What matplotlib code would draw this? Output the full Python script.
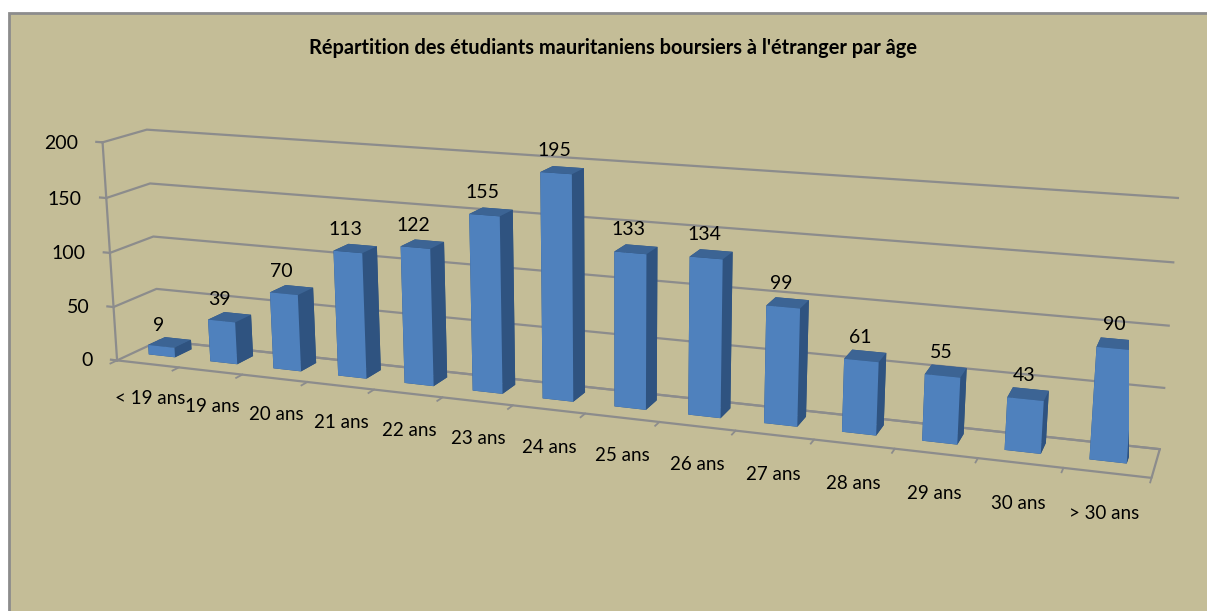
import numpy as np
import matplotlib
matplotlib.use("Agg")
import matplotlib.pyplot as plt
from matplotlib.patches import Rectangle
from mpl_toolkits.mplot3d import proj3d

plt.rcParams['font.family'] = ['Lato', 'DejaVu Sans']

categories = ['< 19 ans', '19 ans', '20 ans', '21 ans', '22 ans', '23 ans', '24 ans',
              '25 ans', '26 ans', '27 ans', '28 ans', '29 ans', '30 ans', '> 30 ans']
values = [9, 39, 70, 113, 122, 155, 195, 133, 134, 99, 61, 55, 43, 90]
y_ticks = [0, 50, 100, 150, 200]
title = "Répartition des étudiants mauritaniens boursiers à l'étranger par âge"

BG = '#C4BD97'
LINE = '#8C8C8C'
# bottom, top, front, back, left, right
FACES = ['#2F5380', '#3C6494', '#4F81BD', '#2F5380', '#2F5380', '#2F5380']

W, H = 1207, 611
n = len(values)
fig = plt.figure(figsize=(W / 100, H / 100), dpi=100, facecolor='white')
# background runs off the right and bottom edges, only left and top border show
fig.add_artist(Rectangle((9 / W, -10 / H), (W + 10) / W, (H - 13 + 10) / H, transform=fig.transFigure,
                         facecolor=BG, edgecolor=LINE, linewidth=2, zorder=-1))

# camera fitted to the wall corners of the picture
ax = fig.add_axes([40.3 / W, -234.7 / H, 1088.9 / W, 1088.9 / H], projection='3d', computed_zorder=False)
ax.patch.set_alpha(0)
ax.set_axis_off()
ax.set_xlim(0, n)
ax.set_ylim(0, 1)
ax.set_zlim(0, 200)
ax.view_init(elev=14.35, azim=-69.52, roll=0.16)
ax.set_proj_type('persp', focal_length=0.332)
ax.set_box_aspect((n, 1.074, 3.088))


def label(x, y, z, t, **kw):
    px, py, _ = proj3d.proj_transform(x, y, z, ax.get_proj())
    ax.text2D(px, py, t, transform=ax.transData, **kw)


# walls and floor
for v in y_ticks:
    ax.plot([0, 0, n], [0, 1, 1], [v, v, v], color=LINE, lw=1.6, clip_on=False)
    ax.plot([-0.1, 0], [0, 0], [v, v], color=LINE, lw=1.6, clip_on=False)
    label(-0.4, 0, v - 3, str(v), ha='right', va='center', fontsize=14)
ax.plot([0, n, n, 0], [0, 0, 1, 1], [0, 0, 0, 0], color=LINE, lw=1.6, clip_on=False)
ax.plot([0, 0], [0, 0], [0, 200], color=LINE, lw=1.6, clip_on=False)
for i in range(n + 1):
    ax.plot([i, i], [0, -0.15], [0, 0], color=LINE, lw=1.3, clip_on=False)

# bars, drawn over the grid lines
bars = ax.bar3d(np.arange(n) + 0.25, np.full(n, 0.38), np.zeros(n), 0.43, 0.4, values,
                color=FACES * n, shade=False, edgecolor='none')
bars.set_zorder(5)

for i, v in enumerate(values):
    label(i + 0.44, 0.38, v + 12, str(v), ha='center', va='bottom', fontsize=14, zorder=6)
    label(i + 0.5, 0, -33, categories[i], ha='center', va='center', fontsize=13.5)

fig.text(613 / W, 1 - 48.5 / H, title, ha='center', va='center', fontsize=14.4, fontweight='bold')
fig.savefig('out.png', dpi=100)
